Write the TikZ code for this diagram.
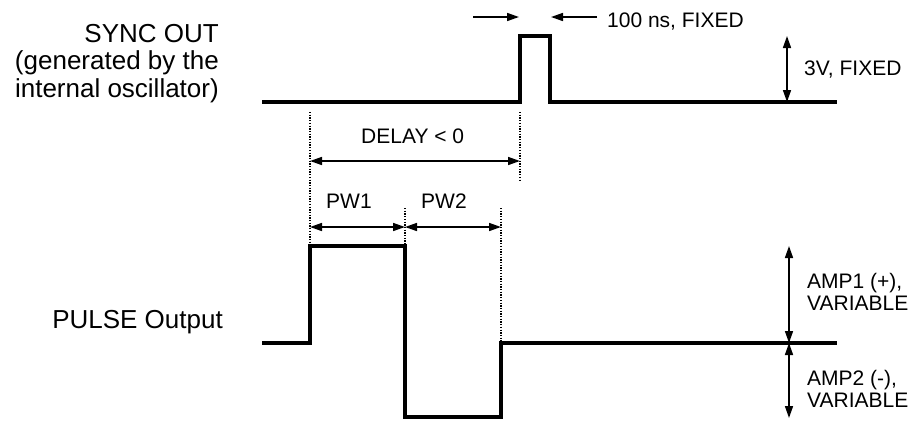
\documentclass[tikz,border=0pt]{standalone}
\usepackage{fontspec}
\setmainfont{Liberation Sans}
\usetikzlibrary{arrows.meta}
\begin{document}
\begin{tikzpicture}[x=1pt,y=-1pt,
  wave/.style={line width=3.4pt,line join=miter,line cap=butt},
  dim/.style={line width=1.6pt,{Triangle[length=12pt,width=8pt]}-{Triangle[length=12pt,width=8pt]}},
  dimr/.style={line width=1.6pt,-{Triangle[length=12pt,width=8pt]}},
  guide/.style={line width=1.3pt,dash pattern=on 1.3pt off 1.4pt},
  lab/.style={font=\fontsize{26}{27.5}\selectfont,inner sep=0pt},
  small/.style={font=\fontsize{21}{22}\selectfont,inner sep=0pt,align=left}]
\useasboundingbox (0,0) rectangle (918,421);
% coordinates
\coordinate (s0) at (262,102);
\coordinate (s1) at (520,102);
\coordinate (s2) at (520,36);
\coordinate (s3) at (550,36);
\coordinate (s4) at (550,102);
\coordinate (s5) at (837,102);
\coordinate (p0) at (262,343);
\coordinate (p1) at (310,343);
\coordinate (p2) at (310,246);
\coordinate (p3) at (405,246);
\coordinate (p4) at (405,417);
\coordinate (p5) at (501,417);
\coordinate (p6) at (501,343);
\coordinate (p7) at (837,343);
% waveforms
\draw[wave] (s0) -- (s1) -- (s2) -- (s3) -- (s4) -- (s5);
\draw[wave] (p0) -- (p1) -- (p2) -- (p3) -- (p4) -- (p5) -- (p6) -- (p7);
% guides
\coordinate (g1t) at (310,112);
\coordinate (g2t) at (520,112);
\coordinate (g2b) at (520,180);
\coordinate (g3t) at (405,208);
\coordinate (g4t) at (501,208);
\draw[guide] (g1t) -- (p2);
\draw[guide] (g2t) -- (g2b);
\draw[guide] (g3t) -- (p3);
\draw[guide] (g4t) -- (p6);
% delay
\coordinate (d1) at (310,161);
\coordinate (d2) at (520,161);
\draw[dim] (d1) -- (d2);
\node[small,anchor=base west] (tdelay) at (361,143) {DELAY < 0};
% PW
\coordinate (w1) at (310,227);
\coordinate (w2) at (405,227);
\coordinate (w3) at (501,227);
\draw[dim] (w1) -- (w2);
\draw[dim] (w2) -- (w3);
\node[small,anchor=base west] (tpw1) at (326,208) {PW1};
\node[small,anchor=base west] (tpw2) at (421,208) {PW2};
% 100 ns
\coordinate (a1) at (473,17);
\coordinate (a2) at (519,17);
\coordinate (a3) at (597,17);
\coordinate (a4) at (551,17);
\draw[dimr] (a1) -- (a2);
\draw[dimr] (a3) -- (a4);
\node[small,anchor=base west] (t100) at (607,27) {100 ns, FIXED};
% 3V
\coordinate (v1) at (787,36);
\coordinate (v2) at (787,102);
\draw[dim] (v1) -- (v2);
\node[small,anchor=base west] (t3v) at (804,75) {3V, FIXED};
% AMP
\coordinate (m1) at (789,246);
\coordinate (m2) at (789,343);
\coordinate (m3) at (789,418);
\draw[dim] (m1) -- (m2);
\draw[dim] (m2) -- (m3);
\node[small,anchor=base west] (tamp1) at (807,288) {AMP1 (+),};
\node[small,anchor=base west] (tvar1) at (807,310) {VARIABLE};
\node[small,anchor=base west] (tamp2) at (807,385) {AMP2 (-),};
\node[small,anchor=base west] (tvar2) at (807,407) {VARIABLE};
% left labels
\node[lab,anchor=base east] (tsync) at (219,42) {SYNC OUT};
\node[lab,anchor=base east] (tgen) at (219,69.5) {(generated by the};
\node[lab,anchor=base east] (tint) at (219,97) {internal oscillator)};
\node[lab,anchor=base east] (tpulse) at (223,328) {PULSE Output};
\end{tikzpicture}
\end{document}
